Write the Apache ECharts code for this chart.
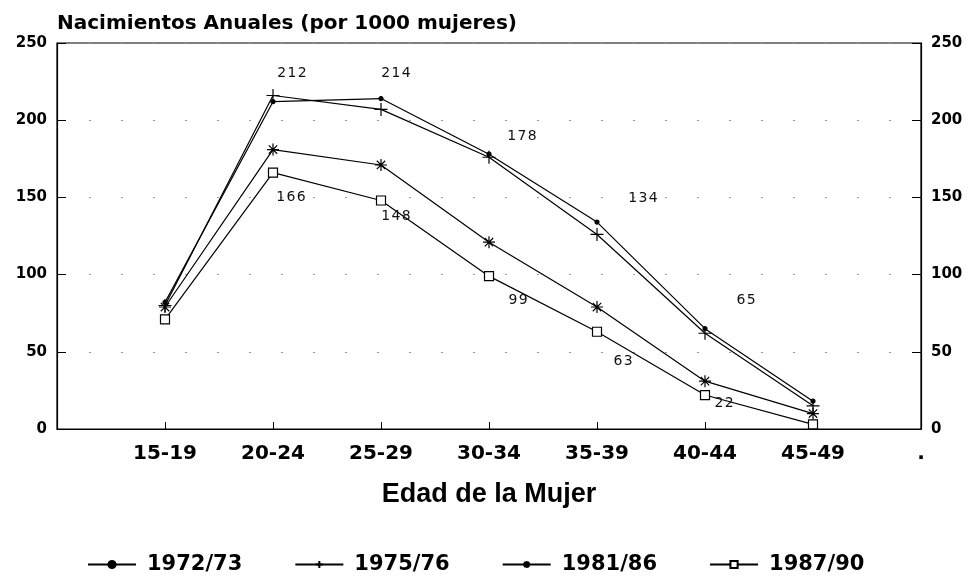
<!DOCTYPE html>
<html>
<head>
<meta charset="utf-8">
<script src="https://cdn.jsdelivr.net/npm/echarts@6/dist/echarts.min.js"></script>
<style>
  html, body { margin: 0; padding: 0; background: #fff; }
  #chart { width: 973px; height: 581px; }
</style>
</head>
<body>
<div id="chart"></div>
<script>
// grupos de edad (con una posición vacía a cada lado, como en el original)
const ageGroups = ['15-19', '20-24', '25-29', '30-34', '35-39', '40-44', '45-49']
const axisCats = [''].concat(ageGroups, ['.'])

const seriesNames = ['1972/73', '1975/76', '1981/86', '1987/90']
const v1972 = [82, 212, 214, 178, 134, 65, 18]
const v1975 = [80, 216, 207, 176, 126, 62, 15]
const v1981 = [79, 181, 171, 121, 79, 31, 10]
const v1987 = [71, 166, 148, 99, 63, 22, 3]

const yTicks = [0, 50, 100, 150, 200, 250]

// etiquetas: sólo en algunas series/puntos
const labelIdx1972 = [1, 2, 3, 4, 5]
const labelIdx1987 = [1, 2, 3, 4, 5]
const off1972 = [[0, 0], [19, -28], [15, -25], [33, -18], [46, -24], [41, -28], [0, 0]]
const off1987 = [[0, 0], [18, 25], [15, 16], [29, 24], [26, 30], [19, 8], [0, 0]]

const chart = echarts.init(document.getElementById('chart'))

function build(values, labelIdx, offsets) {
    const out = ['-']
    values.forEach((v, i) => {
        if (labelIdx && labelIdx.indexOf(i) >= 0) {
            out.push({
                value: v,
                label: {
                    show: true,
                    position: 'inside',
                    offset: offsets[i],
                    // el original tiene los dígitos bastante separados
                    formatter: String(v).split('').join('\u200A'),
                    fontFamily: 'DejaVu Sans',
                    fontSize: 14,
                    color: '#111'
                }
            })
        } else {
            out.push(v)
        }
    })
    out.push('-')
    return out
}

const plusPath = 'path://M0,5L10,5M5,0L5,10'
const starPath = 'path://M5,0L5,10M0,5L10,5M1.5,1.5L8.5,8.5M8.5,1.5L1.5,8.5'
const squarePath = 'path://M0,0L10,0L10,10L0,10Z'

function lineSeries(name, data, symbol, size, fill) {
    return {
        name: name,
        type: 'line',
        data: data,
        symbol: symbol,
        symbolSize: size,
        showAllSymbol: true,
        connectNulls: false,
        lineStyle: { color: '#000', width: 1.2 },
        itemStyle: { color: fill || '#000', borderColor: '#000', borderWidth: 1.2 },
        emphasis: { disabled: true },
        z: 3
    }
}

const yAxisBase = {
    type: 'value',
    min: yTicks[0],
    max: yTicks[yTicks.length - 1],
    interval: 50,
    axisLine: { show: true, lineStyle: { color: '#000', width: 1.2 } },
    axisTick: { show: true, inside: true, length: 9, lineStyle: { color: '#000' } },
    axisLabel: {
        fontFamily: 'DejaVu Sans',
        fontWeight: 'bold',
        fontSize: 15,
        color: '#000',
        margin: 10
    }
}

const option = {
    backgroundColor: '#fff',
    animation: false,
    title: {
        text: 'Nacimientos Anuales (por 1000 mujeres)',
        left: 52,
        top: 9,
        textStyle: {
            fontFamily: 'DejaVu Sans',
            fontWeight: 'bold',
            fontSize: 20,
            color: '#000'
        }
    },
    grid: {
        left: 57,
        right: 52,
        top: 43,
        bottom: 152,
        show: true,
        borderColor: '#000',
        borderWidth: 1.2,
        containLabel: false
    },
    legend: {
        top: 549,
        left: 82,
        itemWidth: 48,
        itemHeight: 9,
        itemGap: 52,
        textStyle: {
            fontFamily: 'DejaVu Sans',
            fontWeight: 'bold',
            fontSize: 21,
            color: '#000',
            padding: [0, 0, 0, 6]
        },
        data: seriesNames
    },
    xAxis: {
        type: 'category',
        data: axisCats,
        boundaryGap: false,
        axisLine: { lineStyle: { color: '#000', width: 1.2 } },
        axisTick: { inside: true, length: 7, interval: 0, lineStyle: { color: '#000' } },
        axisLabel: {
            interval: 0,
            margin: 15,
            fontFamily: 'DejaVu Sans',
            fontWeight: 'bold',
            fontSize: 20,
            color: '#000'
        },
        splitLine: { show: false },
        name: 'Edad de la Mujer',
        nameLocation: 'middle',
        nameGap: 52,
        nameTextStyle: {
            fontFamily: 'Liberation Sans',
            fontSize: 27,
            fontWeight: 'bold',
            color: '#000'
        }
    },
    yAxis: [
        Object.assign({}, yAxisBase, {
            position: 'left',
            splitLine: { show: true, lineStyle: { color: '#999', type: [2, 30], width: 1 } }
        }),
        Object.assign({}, yAxisBase, {
            position: 'right',
            splitLine: { show: false }
        })
    ],
    series: [
        lineSeries(seriesNames[0], build(v1972, labelIdx1972, off1972), 'circle', 4),
        lineSeries(seriesNames[1], build(v1975), plusPath, 13),
        lineSeries(seriesNames[2], build(v1981), starPath, 12),
        lineSeries(seriesNames[3], build(v1987, labelIdx1987, off1987), squarePath, 9, '#fff')
    ]
}

chart.setOption(option)
window.addEventListener('resize', () => chart.resize())
</script>
</body>
</html>
